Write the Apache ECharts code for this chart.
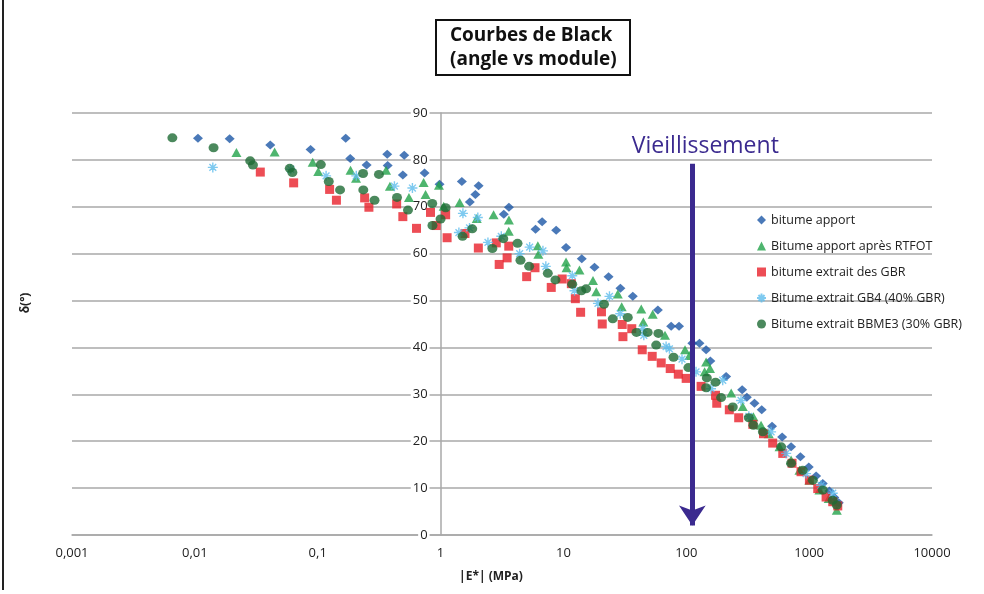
<!DOCTYPE html>
<html>
<head>
<meta charset="utf-8">
<script src="https://cdn.jsdelivr.net/npm/echarts@6/dist/echarts.min.js"></script>
<style>
  html, body { margin: 0; padding: 0; background: #fff; }
  #chart { width: 984px; height: 594px; }
</style>
</head>
<body>
<div id="chart"></div>
<script>
// Black diagram: phase angle δ (°) against complex modulus |E*| (MPa)

const seriesNames = [
  'bitume apport',
  'Bitume apport après RTFOT',
  'bitume extrait des GBR',
  'Bitume extrait GB4 (40% GBR)',
  'Bitume extrait BBME3 (30% GBR)'
];

const xTickLabels = ['0,001', '0,01', '0,1', '1', '10', '100', '1000', '10000'];
const yTickLabels = ['0', '10', '20', '30', '40', '50', '60', '70', '80', '90'];

// [|E*| (MPa), δ (°)]
const bitumeApport = [
  [0.0106, 84.6], [0.0192, 84.5], [0.0411, 83.2], [0.0875, 82.2], [0.169, 84.6],
  [0.184, 80.3], [0.250, 78.9], [0.368, 81.2], [0.371, 78.8], [0.506, 81.0],
  [0.493, 76.8], [0.741, 77.2], [0.981, 74.8], [1.49, 75.4], [2.04, 74.5],
  [1.92, 72.6], [1.73, 71.0], [3.60, 69.9], [3.27, 68.4], [6.71, 66.8],
  [5.93, 65.2], [8.73, 65.0], [10.5, 61.3], [14.1, 58.9], [17.9, 57.1],
  [23.3, 55.1], [29.1, 52.6], [36.7, 50.9], [58.7, 48.0], [75.3, 44.5],
  [87.3, 44.5], [112, 40.9], [128, 40.9], [145, 39.5], [157, 37.1],
  [211, 33.8], [285, 31.0], [311, 29.4], [359, 28.1], [411, 26.7],
  [499, 23.2], [603, 20.9], [713, 18.8], [849, 16.7], [993, 14.5],
  [1140, 12.6], [1291, 11.0], [1462, 9.4], [1603, 8.0], [1742, 6.9]
];

const bitumeRtfot = [
  [0.0218, 81.6], [0.0446, 81.7], [0.0910, 79.5], [0.101, 77.5], [0.185, 77.8],
  [0.205, 76.1], [0.360, 77.8], [0.387, 74.4], [0.553, 72.0], [0.728, 75.2],
  [0.755, 72.6], [0.970, 74.6], [1.06, 70.1], [1.43, 70.9], [1.97, 67.5],
  [2.70, 68.3], [3.60, 67.2], [3.59, 64.8], [6.19, 61.7], [6.25, 59.9],
  [10.5, 58.2], [10.6, 57.0], [13.5, 56.5], [17.4, 54.3], [18.5, 51.9],
  [27.7, 51.4], [29.8, 48.7], [43.0, 48.2], [53.3, 47.1], [44.7, 45.4],
  [67.1, 42.6], [97.7, 39.5], [106, 38.3], [145, 36.9], [156, 35.5],
  [141, 34.8], [232, 30.3], [288, 27.4], [352, 25.2], [406, 23.4],
  [469, 21.6], [574, 18.8], [713, 16.0], [834, 13.8], [1005, 11.7],
  [1213, 9.6], [1442, 7.8], [1679, 5.3]
];

const bitumeGbr = [
  [0.0341, 77.4], [0.0637, 75.1], [0.125, 73.7], [0.142, 71.4], [0.241, 71.9],
  [0.261, 69.9], [0.439, 70.6], [0.493, 67.9], [0.637, 65.4], [0.828, 68.8],
  [0.921, 66.0], [1.10, 68.3], [1.13, 63.4], [1.58, 64.3], [2.03, 61.2],
  [2.84, 62.3], [3.59, 61.6], [3.48, 59.1], [3.00, 57.7], [5.87, 57.0],
  [5.02, 55.1], [7.96, 52.8], [9.77, 54.6], [11.6, 53.6], [12.5, 50.4],
  [13.8, 47.5], [20.4, 47.6], [20.7, 45.0], [30.1, 44.9], [30.5, 42.3],
  [36.0, 44.0], [43.8, 39.5], [52.8, 38.1], [62.5, 36.7], [74.0, 35.5],
  [86.1, 34.3], [99.8, 33.4], [132, 31.7], [173, 29.8], [177, 28.1],
  [224, 26.7], [267, 25.0], [348, 23.6], [425, 21.6], [505, 19.6],
  [610, 17.4], [726, 15.3], [859, 13.5], [1005, 11.7], [1175, 9.9],
  [1374, 8.1], [1556, 7.1], [1710, 6.2]
];

const bitumeGb4 = [
  [0.0140, 78.4], [0.0603, 78.0], [0.117, 76.6], [0.206, 76.6], [0.421, 74.4],
  [0.590, 74.0], [1.52, 68.6], [2.01, 67.7], [1.41, 64.5], [1.72, 65.5],
  [2.43, 62.4], [3.12, 63.7], [4.40, 60.0], [5.31, 61.4], [6.81, 60.6],
  [7.19, 57.3], [11.8, 55.3], [12.3, 52.1], [19.1, 49.4], [23.7, 50.9],
  [29.0, 47.2], [44.3, 44.0], [45.1, 42.6], [68.5, 40.2], [72.9, 39.7],
  [92.3, 37.5], [120, 34.8], [198, 33.0], [159, 31.2], [279, 28.7],
  [323, 25.3], [490, 22.0], [650, 17.4], [944, 13.1], [1250, 10.6],
  [1556, 8.9]
];

const bitumeBbme3 = [
  [0.00656, 84.7], [0.0142, 82.6], [0.0282, 79.8], [0.0297, 78.9], [0.0592, 78.2],
  [0.0622, 77.3], [0.106, 79.0], [0.123, 75.4], [0.152, 73.6], [0.234, 77.1],
  [0.235, 73.6], [0.290, 71.4], [0.315, 76.9], [0.442, 72.0], [0.543, 69.3],
  [0.855, 70.7], [0.859, 66.0], [1.00, 67.4], [1.10, 69.8], [1.51, 63.7],
  [1.81, 65.3], [2.64, 61.1], [3.24, 63.2], [4.23, 62.2], [4.47, 58.6],
  [5.26, 57.3], [7.46, 55.8], [8.61, 54.4], [11.8, 53.5], [14.0, 52.1],
  [15.3, 52.5], [21.4, 49.2], [25.2, 46.1], [33.4, 46.4], [39.3, 43.2],
  [48.5, 43.2], [56.9, 40.5], [59.3, 43.0], [78.7, 37.9], [104, 35.7],
  [147, 33.5], [173, 32.6], [145, 31.4], [192, 29.3], [239, 27.3],
  [323, 25.0], [352, 23.4], [420, 22.0], [592, 18.8], [713, 15.3],
  [887, 13.8], [1072, 11.7], [1291, 9.6], [1556, 7.4], [1679, 6.4]
];

// ageing arrow, drawn in data coordinates: [|E*|, δ start], [|E*|, δ end]
const ageingArrow = [[112, 79.2], [112, 2.0]];
const ageingLabel = 'Vieillissement';

const GRID_LEFT = 72, GRID_RIGHT = 52, GRID_TOP = 113, GRID_BOTTOM = 59;
const plotWidth = 984 - GRID_LEFT - GRID_RIGHT;
// the vertical axis crosses the horizontal one at |E*| = 1 (3 decades from 0.001)
const yAxisShift = -plotWidth * 3 / 7;

const asterisk = 'path://M0,5L10,5M5,0L5,10M1.6,1.6L8.4,8.4M8.4,1.6L1.6,8.4Z';
const FONT = '"Open Sans", Lato, sans-serif';

const chart = echarts.init(document.getElementById('chart'), null, { renderer: 'canvas' });

chart.setOption({
  animation: false,
  backgroundColor: '#ffffff',
  title: {
    text: 'Courbes de Black\n(angle vs module)',
    left: 436,
    top: 20,
    padding: [4, 14, 3, 14],
    borderColor: '#111',
    borderWidth: 2,
    textStyle: {
      fontFamily: FONT,
      fontSize: 19,
      fontWeight: 'bold',
      lineHeight: 24,
      color: '#111',
      align: 'center'
    }
  },
  legend: {
    orient: 'vertical',
    left: 751,
    top: 208,
    itemWidth: 9,
    itemHeight: 9,
    itemGap: 12,
    data: seriesNames,
    textStyle: { fontFamily: FONT, fontSize: 12.5, color: '#222', lineHeight: 14 }
  },
  grid: { left: GRID_LEFT, right: GRID_RIGHT, top: GRID_TOP, bottom: GRID_BOTTOM },
  xAxis: {
    type: 'log',
    logBase: 10,
    min: 0.001,
    max: 10000,
    name: '|E*| (MPa)',
    nameLocation: 'middle',
    nameGap: 36,
    nameTextStyle: { fontFamily: FONT, fontSize: 12, fontWeight: 'bold', color: '#222', padding: [0, 22, 0, 0] },
    axisLine: { lineStyle: { color: '#a8a8a8', width: 1.5 } },
    axisTick: { show: false },
    splitLine: { show: false },
    axisLabel: {
      fontFamily: FONT,
      fontSize: 13,
      color: '#222',
      margin: 12,
      formatter: function (v) {
        const i = Math.round(Math.log10(v)) + 3;
        return xTickLabels[i] !== undefined ? xTickLabels[i] : '';
      }
    }
  },
  yAxis: {
    type: 'value',
    min: 0,
    max: 90,
    interval: 10,
    offset: yAxisShift,
    name: 'δ(°)',
    nameLocation: 'middle',
    nameGap: -yAxisShift + 40,
    nameRotate: 90,
    nameTextStyle: { fontFamily: FONT, fontSize: 12, fontWeight: 'bold', color: '#222', padding: [0, 0, 0, 42] },
    axisLine: { show: true, lineStyle: { color: '#a8a8a8', width: 1.5 } },
    axisTick: { show: false },
    splitLine: { lineStyle: { color: '#a8a8a8', width: 1.5 } },
    axisLabel: {
      fontFamily: FONT,
      fontSize: 13,
      color: '#222',
      margin: 11,
      backgroundColor: '#fff',
      padding: [0, 2],
      formatter: function (v) { return yTickLabels[Math.round(v / 10)]; }
    }
  },
  series: [
    {
      name: seriesNames[0], type: 'scatter', data: bitumeApport,
      symbol: 'diamond', symbolSize: [10, 9],
      itemStyle: { color: '#1d58a6' },
      markLine: {
        silent: true,
        symbol: ['none', 'arrow'],
        symbolSize: 20,
        lineStyle: { color: '#3b2a8f', width: 5, type: 'solid' },
        label: {
          show: true,
          position: 'start',
          formatter: ageingLabel,
          color: '#3b2a8f',
          fontFamily: FONT,
          fontSize: 23,
          distance: 6,
          padding: [0, 0, 0, 26]
        },
        data: [[{ coord: ageingArrow[0] }, { coord: ageingArrow[1] }]]
      }
    },
    {
      name: seriesNames[1], type: 'scatter', data: bitumeRtfot,
      symbol: 'triangle', symbolSize: [10, 9],
      itemStyle: { color: '#22a24a' }
    },
    {
      name: seriesNames[2], type: 'scatter', data: bitumeGbr,
      symbol: 'rect', symbolSize: 9,
      itemStyle: { color: '#e8212a' }
    },
    {
      name: seriesNames[3], type: 'scatter', data: bitumeGb4,
      symbol: asterisk, symbolSize: 10,
      itemStyle: { color: 'rgba(0,0,0,0)', borderColor: '#5fbdec', borderWidth: 1.4 }
    },
    {
      name: seriesNames[4], type: 'scatter', data: bitumeBbme3,
      symbol: 'circle', symbolSize: [10, 9],
      itemStyle: { color: '#1e6b34' }
    }
  ],
  graphic: [
    {
      type: 'line',
      shape: { x1: 3, y1: 0, x2: 3, y2: 590 },
      style: { stroke: '#222', lineWidth: 2 },
      silent: true
    }
  ]
});
</script>
</body>
</html>
